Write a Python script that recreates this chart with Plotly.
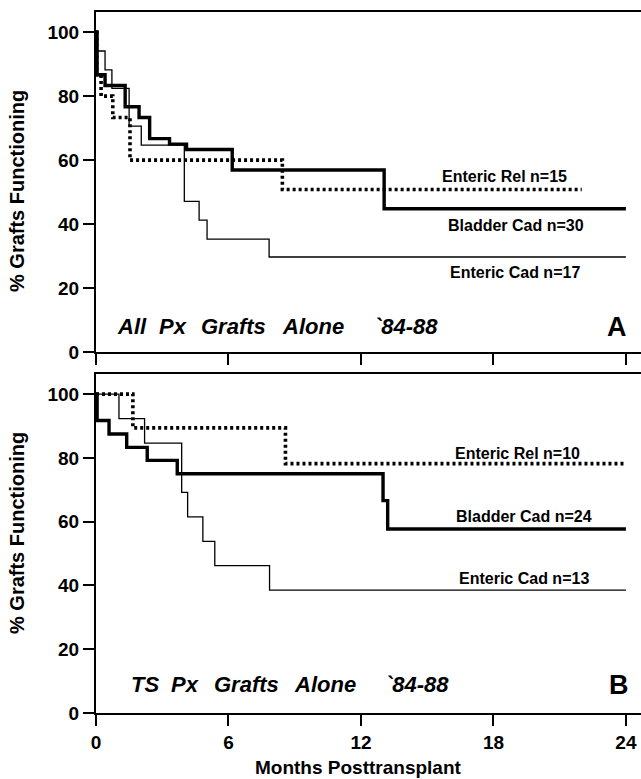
import plotly.graph_objects as go

# ---------------- data (months, % grafts functioning) ----------------
tick_months = [0, 6, 12, 18, 24]
tick_pct = [0, 20, 40, 60, 80, 100]

# Panel A: All Px Grafts Alone '84-88
a_bladder_t = [0, 0.05, 0.41, 1.32, 1.95, 2.43, 3.33, 4.1, 6.17, 13.05, 24.0]
a_bladder_v = [100, 86.7, 83.3, 76.7, 73.3, 66.7, 65.0, 63.3, 56.9, 44.8, 44.8]
a_entcad_t = [0, 0.03, 0.41, 0.72, 1.5, 2.05, 4.0, 4.67, 5.03, 7.84, 24.0]
a_entcad_v = [100, 94.1, 88.2, 82.4, 70.6, 64.7, 47.1, 41.2, 35.3, 29.7, 29.7]
a_entrel_t = [0, 0.03, 0.23, 0.76, 1.54, 8.44, 22.0]
a_entrel_v = [100, 86.7, 80.0, 73.3, 60.0, 50.8, 50.8]

# Panel B: TS Px Grafts Alone '84-88
b_bladder_t = [0, 0.05, 0.59, 1.39, 2.32, 3.68, 13.0, 13.21, 24.0]
b_bladder_v = [100, 91.7, 87.5, 83.3, 79.2, 75.0, 66.6, 57.7, 57.7]
b_entcad_t = [0, 1.04, 2.2, 3.88, 4.15, 4.84, 5.38, 7.86, 24.0]
b_entcad_v = [100, 92.3, 84.6, 69.2, 61.5, 53.8, 46.2, 38.5, 38.5]
b_entrel_t = [0, 1.67, 8.58, 24.0]
b_entrel_v = [100, 89.4, 78.2, 78.2]

a_labels = ["Enteric Rel n=15", "Bladder Cad n=30", "Enteric Cad n=17"]
b_labels = ["Enteric Rel n=10", "Bladder Cad n=24", "Enteric Cad n=13"]
a_title_words = ["All", "Px", "Grafts", "Alone", "`84-88"]
b_title_words = ["TS", "Px", "Grafts", "Alone", "`84-88"]
y_title = "% Grafts Functioning"
x_title = "Months Posttransplant"

# ---------------- layout geometry ----------------
W, H = 641, 779
ML, MR, MT, MB = 96, 0, 12, 66
PW = W - ML - MR
PH = H - MT - MB
A_TOP, A_BOT = 12, 352
B_TOP, B_BOT = 374, 713


def px(x):
    return (x - ML) / PW


def py(y):
    return (H - MB - y) / PH


FONT = "Liberation Sans, Arial, Helvetica, sans-serif"
BLACK = "#000000"

fig = go.Figure()

styles = {
    "thick": dict(color=BLACK, width=3.4),
    "thin": dict(color=BLACK, width=1.3),
    "dot": dict(color=BLACK, width=3.6, dash="3px,3px"),
}

series = [
    (a_entrel_t, a_entrel_v, "dot", "x", "y"),
    (a_entcad_t, a_entcad_v, "thin", "x", "y"),
    (a_bladder_t, a_bladder_v, "thick", "x", "y"),
    (b_entrel_t, b_entrel_v, "dot", "x2", "y2"),
    (b_entcad_t, b_entcad_v, "thin", "x2", "y2"),
    (b_bladder_t, b_bladder_v, "thick", "x2", "y2"),
]
for t, v, st, xa, ya in series:
    fig.add_trace(go.Scatter(x=t, y=v, mode="lines", line=dict(shape="hv", **styles[st]),
                             xaxis=xa, yaxis=ya, showlegend=False, hoverinfo="skip"))

xr = [0, (W - ML) / 22.08]
yr_top = 106.3

axis_common = dict(showline=True, linecolor=BLACK, linewidth=2, showgrid=False, zeroline=False,
                   ticks="outside", ticklen=11, tickwidth=1.5, tickcolor=BLACK)

tickfont = dict(family=FONT, size=19, color=BLACK, weight="bold")

fig.update_layout(
    width=W, height=H,
    margin=dict(l=ML, r=MR, t=MT, b=MB),
    paper_bgcolor="white", plot_bgcolor="white",
    xaxis=dict(domain=[0, 1], anchor="y", range=xr, tickvals=tick_months, showticklabels=False,
               mirror=True, **axis_common),
    yaxis=dict(domain=[py(A_BOT), py(A_TOP)], anchor="x", range=[0, yr_top], tickvals=tick_pct,
               tickfont=tickfont, **axis_common),
    xaxis2=dict(domain=[0, 1], anchor="y2", range=xr, tickvals=tick_months, tickfont=tickfont,
                ticklabelstandoff=0, mirror=True, **axis_common),
    yaxis2=dict(domain=[py(B_BOT), py(B_TOP)], anchor="x2", range=[0, yr_top], tickvals=tick_pct,
                tickfont=tickfont, **axis_common),
)

ann = []
lab_font = dict(family=FONT, size=16, color=BLACK, weight="bold")
for text, (cx, cy) in zip(a_labels, [(504, 177), (516, 225), (515, 272)]):
    ann.append(dict(text=text, x=px(cx), y=py(cy), xref="paper", yref="paper",
                    xanchor="center", yanchor="middle", showarrow=False, font=lab_font))
for text, (cx, cy) in zip(b_labels, [(517, 453), (524, 516), (524, 578)]):
    ann.append(dict(text=text, x=px(cx), y=py(cy), xref="paper", yref="paper",
                    xanchor="center", yanchor="middle", showarrow=False, font=lab_font))

ttl_font = dict(family=FONT, size=22, color=BLACK, weight="bold", style="italic")
for w, x0 in zip(a_title_words, [115, 157, 199, 280, 372]):
    ann.append(dict(text=w, x=px(x0), y=py(326), xref="paper", yref="paper",
                    xanchor="left", yanchor="middle", showarrow=False, font=ttl_font))
for w, x0 in zip(b_title_words, [129, 169, 212, 292, 383]):
    ann.append(dict(text=w, x=px(x0), y=py(684), xref="paper", yref="paper",
                    xanchor="left", yanchor="middle", showarrow=False, font=ttl_font))

big_font = dict(family=FONT, size=27, color=BLACK, weight="bold")
ann.append(dict(text="A", x=px(617), y=py(327), xref="paper", yref="paper",
                xanchor="center", yanchor="middle", showarrow=False, font=big_font))
ann.append(dict(text="B", x=px(619), y=py(685), xref="paper", yref="paper",
                xanchor="center", yanchor="middle", showarrow=False, font=big_font))

ytl_font = dict(family=FONT, size=20, color=BLACK, weight="bold")
ann.append(dict(text=y_title, x=px(17), y=py(191), xref="paper", yref="paper", textangle=-90,
                xanchor="center", yanchor="middle", showarrow=False, font=ytl_font))
ann.append(dict(text=y_title, x=px(17), y=py(533), xref="paper", yref="paper", textangle=-90,
                xanchor="center", yanchor="middle", showarrow=False, font=ytl_font))
ann.append(dict(text=x_title, x=px(358), y=py(767), xref="paper", yref="paper",
                xanchor="center", yanchor="middle", showarrow=False,
                font=dict(family=FONT, size=19, color=BLACK, weight="bold")))

fig.update_layout(annotations=ann)

fig.write_html(
    "out.html",
    config={"displayModeBar": False},
    post_script="document.body.style.margin='0';document.body.style.padding='0';",
)
